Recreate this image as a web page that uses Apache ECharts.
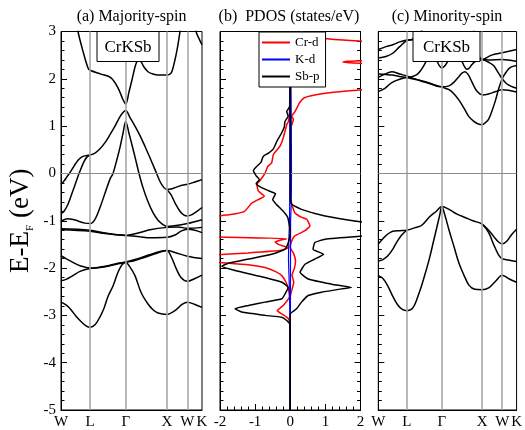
<!DOCTYPE html>
<html>
<head>
<meta charset="utf-8">
<script src="https://cdn.jsdelivr.net/npm/echarts@6/dist/echarts.min.js"></script>
<style>
  html, body { margin: 0; padding: 0; background: #fff; }
  #chart { width: 525px; height: 430px; }
</style>
</head>
<body>
<div id="chart"></div>
<script>
// High-symmetry path W-L-Γ-X-W-K (distances in units of 2π/a)
const kPoints = [0, 0.707, 1.573, 2.573, 3.073, 3.427];
const kLabels = ['W', 'L', 'Γ', 'X', 'W', 'K'];
const energyRange = [-5, 3];
const dosRange = [-2, 2];

// Majority-spin bands: [k, E - E_F (eV)]
const majA = [[0.340, 3.4], [0.413, 3.0], [0.535, 2.58], [0.656, 2.23], [0.707, 2.18], [0.972, 2.1], [1.215, 2.02], [1.385, 1.81], [1.507, 1.56], [1.573, 1.47], [1.652, 1.72], [1.726, 1.98], [1.798, 2.25], [1.847, 2.37], [1.896, 2.45], [1.944, 2.37], [2.017, 2.25], [2.115, 2.15], [2.236, 2.1], [2.358, 2.08], [2.573, 2.08], [2.673, 2.12], [2.722, 2.23], [2.795, 2.5], [2.843, 2.72], [2.892, 3.0], [2.941, 3.3]];
const majZ = [[3.073, 3.6], [3.183, 3.35], [3.281, 3.0], [3.354, 2.85], [3.427, 2.72]];
const majC = [[0, -0.23], [0.073, -0.16], [0.146, -0.07], [0.219, 0.02], [0.292, 0.12], [0.365, 0.22], [0.437, 0.3], [0.535, 0.36], [0.707, 0.39], [0.826, 0.43], [0.948, 0.52], [1.069, 0.65], [1.191, 0.82], [1.312, 1.0], [1.434, 1.2], [1.507, 1.29], [1.573, 1.33], [1.677, 1.18], [1.798, 1.0], [1.920, 0.8], [2.042, 0.57], [2.163, 0.33], [2.285, 0.08], [2.406, -0.17], [2.503, -0.3], [2.573, -0.34], [2.673, -0.33], [2.770, -0.3], [2.941, -0.25], [3.073, -0.23], [3.256, -0.18], [3.427, -0.13]];
const majD = [[0, -0.85], [0.073, -0.8], [0.170, -0.65], [0.267, -0.42], [0.365, -0.18], [0.462, 0.05], [0.559, 0.25], [0.632, 0.35], [0.707, 0.39]];
const majE = [[0, -1.02], [0.073, -0.98], [0.170, -0.96], [0.267, -0.97], [0.365, -0.99], [0.462, -1.02], [0.583, -1.05], [0.707, -1.06], [0.826, -0.97], [0.948, -0.72], [1.069, -0.42], [1.191, -0.12], [1.264, 0.0], [1.361, 0.3], [1.434, 0.55], [1.507, 0.85], [1.573, 1.1], [1.652, 0.85], [1.726, 0.6], [1.798, 0.35], [1.896, 0.0], [1.993, -0.3], [2.115, -0.6], [2.236, -0.83], [2.358, -0.99], [2.479, -1.08], [2.573, -1.12], [2.795, -1.1], [3.073, -1.06], [3.427, -0.98]];
const majF = [[2.573, -0.34], [2.673, -0.45], [2.770, -0.62], [2.892, -0.8], [2.989, -0.88], [3.073, -0.9], [3.183, -0.87], [3.305, -0.8], [3.427, -0.72]];
const majG1 = [[0, -1.17], [0.707, -1.2], [1.069, -1.26], [1.573, -1.31], [1.920, -1.25], [2.163, -1.19], [2.573, -1.14], [2.843, -1.13], [3.073, -1.16], [3.427, -1.14]];
const majG2 = [[0, -1.19], [0.707, -1.22], [1.069, -1.27], [1.573, -1.31], [1.920, -1.34], [2.163, -1.36], [2.573, -1.35], [2.770, -1.3], [2.916, -1.22], [3.073, -1.18], [3.256, -1.2], [3.427, -1.25]];
const majH = [[0, -2.72], [0.122, -2.78], [0.243, -2.88], [0.365, -3.02], [0.486, -3.13], [0.608, -3.22], [0.707, -3.25], [0.826, -3.2], [0.948, -3.03], [1.045, -2.85], [1.142, -2.6], [1.264, -2.38], [1.385, -2.09], [1.483, -1.93], [1.573, -1.88], [1.677, -1.98], [1.798, -2.16], [1.944, -2.51], [2.115, -2.76], [2.236, -2.88], [2.358, -2.95], [2.573, -2.98], [2.770, -2.9], [2.941, -2.77], [3.073, -2.72], [3.256, -2.77], [3.427, -2.83]];
const majI = [[0, -1.74], [0.122, -1.8], [0.267, -1.87], [0.462, -1.95], [0.707, -2.0], [0.948, -1.98], [1.191, -1.94], [1.385, -1.9], [1.573, -1.87], [1.798, -1.82], [2.042, -1.75], [2.285, -1.68], [2.455, -1.64], [2.573, -1.63], [2.770, -1.67], [3.073, -1.75], [3.427, -1.8]];
const majJ = [[0, -2.27], [0.122, -2.24], [0.267, -2.17], [0.462, -2.07], [0.707, -2.01], [0.948, -1.99], [1.191, -1.95], [1.385, -1.91], [1.573, -1.88], [1.798, -1.84], [2.042, -1.77], [2.285, -1.7], [2.455, -1.65], [2.573, -1.63], [2.673, -1.75], [2.795, -2.0], [2.916, -2.2], [3.073, -2.28], [3.256, -2.22], [3.427, -2.15]];

// Minority-spin bands: [k, E - E_F (eV)]
const minC1 = [[0, 2.62], [0.189, 2.68], [0.360, 2.72], [0.531, 2.78], [0.707, 2.82], [0.850, 2.84], [1.021, 2.95], [1.266, 3.2], [2.246, 3.2], [2.442, 2.6], [2.573, 2.41], [2.808, 2.5], [3.070, 2.55], [3.427, 2.62]];
const minC2 = [[0, 2.44], [0.189, 2.47], [0.360, 2.54], [0.531, 2.68], [0.707, 2.81], [0.850, 2.83], [1.143, 3.1]];
const minC2r = [[2.573, 2.41], [2.735, 2.4], [3.070, 2.41], [3.273, 2.39], [3.427, 2.37]];
const minC3 = [[0, 2.1], [0.189, 2.09], [0.335, 2.08], [0.531, 2.05], [0.707, 2.03], [0.850, 2.05], [0.972, 2.1], [1.070, 2.2], [1.143, 2.3], [1.217, 2.42], [1.315, 2.55], [1.438, 2.4], [1.511, 2.28], [1.573, 2.23], [1.656, 2.28], [1.754, 2.42], [1.877, 2.6], [2.000, 2.5], [2.074, 2.37], [2.148, 2.24], [2.197, 2.2], [2.246, 2.22], [2.319, 2.3], [2.392, 2.36], [2.573, 2.41]];
const minM1 = [[0, 2.03], [0.164, 2.1], [0.335, 2.15], [0.531, 2.1], [0.707, 2.06], [0.898, 2.0], [1.070, 1.95], [1.266, 1.9], [1.438, 1.85], [1.573, 1.83]];
const minM3 = [[0, 1.73], [0.164, 1.8], [0.335, 1.92], [0.531, 1.99], [0.707, 2.02], [0.898, 1.99], [1.070, 1.96], [1.266, 1.91], [1.438, 1.86], [1.573, 1.83]];
const minP1 = [[1.573, 1.83], [1.754, 1.85], [1.877, 1.93], [2.000, 2.05], [2.074, 2.12], [2.148, 2.15], [2.220, 2.1], [2.295, 1.98], [2.368, 1.85], [2.442, 1.74], [2.573, 1.66], [2.735, 1.68], [2.906, 1.73], [3.070, 1.77], [3.224, 1.76], [3.427, 1.72]];
const minP2 = [[1.573, 1.83], [1.656, 1.8], [1.754, 1.77], [1.877, 1.68], [2.000, 1.55], [2.123, 1.38], [2.246, 1.2], [2.368, 1.1], [2.465, 1.05], [2.573, 1.03], [2.661, 1.08], [2.735, 1.15], [2.808, 1.3], [2.906, 1.55], [2.980, 1.78], [3.070, 2.0], [3.175, 2.15], [3.273, 2.24], [3.427, 2.28]];
const minP3 = [[2.573, 2.41], [2.735, 2.35], [2.857, 2.28], [2.980, 2.12], [3.070, 2.0], [3.175, 1.9], [3.297, 1.84], [3.427, 1.8]];
const minV1 = [[0, -1.49], [0.115, -1.38], [0.237, -1.28], [0.360, -1.22], [0.531, -1.21], [0.707, -1.2], [0.898, -1.15], [1.070, -1.1], [1.266, -0.92], [1.438, -0.8], [1.573, -0.7], [1.754, -0.76], [1.951, -0.86], [2.148, -0.93], [2.343, -1.0], [2.573, -1.07], [2.735, -1.2], [2.857, -1.33], [2.980, -1.45], [3.070, -1.49], [3.175, -1.44], [3.297, -1.3], [3.427, -1.18]];
const minV2 = [[0, -1.85], [0.115, -1.82], [0.237, -1.74], [0.360, -1.6], [0.458, -1.45], [0.580, -1.3], [0.707, -1.2]];
const minV3 = [[0, -2.16], [0.115, -2.22], [0.237, -2.38], [0.360, -2.6], [0.482, -2.78], [0.605, -2.88], [0.707, -2.9], [0.825, -2.87], [0.898, -2.78], [0.972, -2.62], [1.070, -2.38], [1.168, -2.1], [1.266, -1.8], [1.364, -1.45], [1.462, -1.1], [1.522, -0.88], [1.573, -0.7], [1.656, -0.9], [1.754, -1.2], [1.877, -1.55], [2.000, -1.9], [2.123, -2.15], [2.246, -2.36], [2.392, -2.45], [2.573, -2.46], [2.735, -2.42], [2.906, -2.28], [3.070, -2.15], [3.224, -2.22], [3.427, -2.3]];
const minV5 = [[2.573, -1.07], [2.735, -1.25], [2.857, -1.5], [2.980, -1.72], [3.070, -1.8], [3.224, -1.83], [3.427, -1.86]];

// Projected DOS: [states/eV, E - E_F (eV)]; majority drawn to the left (negative)
const crUp = [[0, 3.0], [-0.01, 2.0], [-0.02, 1.3], [-0.05, 1.1], [-0.1, 1.03], [-0.2, 0.75], [-0.29, 0.58], [-0.48, 0.4], [-0.53, 0.22], [-0.64, 0.15], [-0.72, 0.0], [-0.86, -0.15], [-0.95, -0.23], [-0.91, -0.37], [-0.74, -0.48], [-0.93, -0.56], [-1.1, -0.63], [-1.3, -0.8], [-1.7, -0.87], [-2.3, -0.92], [-3, -1.0], [-3, -1.3], [-2.2, -1.34], [-0.1, -1.38], [-0.43, -1.45], [-0.34, -1.5], [-0.05, -1.57], [-0.3, -1.63], [-1.2, -1.68], [-2.5, -1.74], [-3, -1.78], [-2.5, -1.85], [-1.2, -1.93], [-0.72, -1.99], [-0.4, -2.08], [-0.24, -2.16], [-0.12, -2.3], [-0.05, -2.45], [-0.02, -2.6], [-0.2, -2.79], [-0.37, -2.9], [-0.24, -2.97], [-0.05, -3.07], [-0.01, -3.2], [0, -5]];
const crDn = [[0.3, 3.0], [0.5, 2.92], [0.78, 2.87], [1.5, 2.82], [2.3, 2.78], [3, 2.72], [3, 2.42], [2.3, 2.39], [1.6, 2.37], [1.5, 2.35], [2.2, 2.32], [3, 2.28], [3, 1.82], [2.3, 1.78], [1.9, 1.76], [1.3, 1.72], [0.7, 1.66], [0.4, 1.6], [0.27, 1.5], [0.2, 1.4], [0.13, 1.3], [0.04, 1.21], [0.09, 1.14], [0.03, 1.0], [0.01, 0.8], [0, -0.5], [0.06, -0.69], [0.13, -0.83], [0.3, -0.92], [0.47, -0.97], [0.56, -1.11], [0.42, -1.21], [0.13, -1.32], [0.03, -1.45], [0, -1.56], [0.1, -1.7], [0.15, -1.85], [0.12, -2.0], [0.05, -2.15], [0.1, -2.3], [0.05, -2.45], [0, -2.6], [0, -5]];
const kUp = [[-0.01, 3.0], [-0.01, 0.0], [-0.02, -1.0], [-0.04, -1.4], [-0.05, -1.8], [-0.03, -2.3], [-0.01, -3.0], [0, -5]];
const kDn = [[0.01, 3.0], [0.03, 1.0], [0.035, 0.0], [0.03, -0.6], [0.01, -1.0], [0.005, -3.0], [0, -5]];
const sbUp = [[0, 3.0], [0, 1.45], [-0.04, 1.38], [-0.1, 1.31], [-0.06, 1.21], [-0.15, 1.1], [-0.17, 0.98], [-0.25, 0.85], [-0.38, 0.68], [-0.48, 0.52], [-0.62, 0.43], [-0.77, 0.36], [-0.83, 0.24], [-0.95, 0.15], [-1.05, 0.06], [-0.97, -0.05], [-0.88, -0.13], [-0.97, -0.22], [-0.82, -0.3], [-0.6, -0.37], [-0.42, -0.43], [-0.5, -0.55], [-0.4, -0.65], [-0.2, -0.8], [-0.07, -0.93], [0, -1.25], [-0.05, -1.45], [-0.15, -1.6], [-0.53, -1.71], [-1.19, -1.81], [-1.76, -1.9], [-1.95, -1.96], [-1.57, -2.05], [-0.72, -2.2], [-0.24, -2.3], [-0.06, -2.41], [-0.15, -2.55], [-0.24, -2.65], [-0.72, -2.72], [-1.19, -2.79], [-1.57, -2.86], [-1.38, -2.93], [-0.72, -3.0], [-0.24, -3.04], [-0.1, -3.11], [0, -3.21], [0, -5]];
const sbDn = [[0, 3.0], [0, -0.55], [0.04, -0.65], [0.32, -0.76], [0.99, -0.9], [1.99, -1.02], [3, -1.1], [3, -1.28], [1.99, -1.33], [0.99, -1.39], [0.7, -1.46], [0.65, -1.6], [0.95, -1.71], [0.7, -1.81], [0.42, -1.92], [0.28, -2.09], [0.51, -2.23], [1.18, -2.34], [1.74, -2.41], [1.46, -2.44], [0.89, -2.51], [0.51, -2.58], [0.32, -2.72], [0.18, -2.86], [0, -2.97], [0, -5]];

const majorityBands = [majA, majZ, majC, majD, majE, majF, majG1, majG2, majH, majI, majJ];
const minorityBands = [minC1, minC2, minC2r, minC3, minM1, minM3, minP1, minP2, minP3, minV1, minV2, minV3, minV5];

const FONT = 'Liberation Serif';
const grids = [
  { left: 61, top: 31.5, width: 141, height: 380 },
  { left: 220, top: 31.5, width: 140.5, height: 380 },
  { left: 378.3, top: 31.5, width: 140, height: 380 }
];

function energyAxis(gridIndex, extra) {
  return Object.assign({
    type: 'value', gridIndex: gridIndex,
    min: energyRange[0], max: energyRange[1], interval: 1,
    axisLine: { show: true, onZero: false, lineStyle: { color: '#000', width: 1 } },
    axisTick: { show: true, inside: true, length: 6, lineStyle: { color: '#000', width: 1 } },
    minorTick: { show: true, splitNumber: 5, length: 3.5, lineStyle: { color: '#000', width: 1 } },
    splitLine: { show: false },
    axisLabel: { show: false }
  }, extra || {});
}

function pathAxis(gridIndex) {
  return {
    type: 'value', gridIndex: gridIndex,
    min: kPoints[0], max: kPoints[kPoints.length - 1],
    axisLine: { show: true, onZero: false, lineStyle: { color: '#000', width: 1 } },
    axisTick: { show: false },
    splitLine: { show: false },
    axisLabel: {
      customValues: kPoints,
      fontFamily: FONT, fontSize: 15, color: '#000', margin: 5,
      formatter: function (v) {
        let best = 0;
        kPoints.forEach(function (p, i) { if (Math.abs(p - v) < Math.abs(kPoints[best] - v)) best = i; });
        return kLabels[best];
      }
    }
  };
}

function guideLines(gridIndex, vertical) {
  const data = [];
  if (vertical) {
    kPoints.slice(1, -1).forEach(function (k) {
      data.push({ xAxis: k, lineStyle: { color: '#a8a8a8', width: 1.6 } });
    });
  }
  data.push({ yAxis: 0, lineStyle: { color: '#8c8c8c', width: 1 } });
  return {
    type: 'line', xAxisIndex: gridIndex, yAxisIndex: gridIndex, data: [], z: 1,
    markLine: { silent: true, symbol: 'none', label: { show: false }, animation: false,
      lineStyle: { type: 'solid' }, data: data }
  };
}

function bandSeries(data, gridIndex) {
  return {
    type: 'line', xAxisIndex: gridIndex, yAxisIndex: gridIndex, data: data,
    smooth: 0.35, showSymbol: false, silent: true, z: 3,
    lineStyle: { color: '#000', width: 1.5 }
  };
}

function dosSeries(name, color, data, z, width) {
  return {
    name: name, type: 'line', xAxisIndex: 1, yAxisIndex: 1, data: data,
    smooth: 0.15, showSymbol: false, silent: true, z: z, color: color,
    lineStyle: { color: color, width: width }
  };
}

const series = [guideLines(0, true), guideLines(1, false), guideLines(2, true)];
majorityBands.forEach(function (b) { series.push(bandSeries(b, 0)); });
minorityBands.forEach(function (b) { series.push(bandSeries(b, 2)); });
series.push(dosSeries('Cr-d', '#ff0000', crUp, 3, 1.5));
series.push(dosSeries('Cr-d', '#ff0000', crDn, 3, 1.5));
series.push(dosSeries('K-d', '#0000ff', kUp, 4, 1.2));
series.push(dosSeries('K-d', '#0000ff', kDn, 4, 1.2));
series.push(dosSeries('Sb-p', '#000000', sbUp, 5, 1.5));
series.push(dosSeries('Sb-p', '#000000', sbDn, 5, 1.5));

function labelBox(x, y, w, h, text) {
  return {
    type: 'group', z: 100,
    children: [
      { type: 'rect', z: 100, shape: { x: x, y: y, width: w, height: h },
        style: { fill: '#fff', stroke: '#000', lineWidth: 1 } },
      { type: 'text', z: 101, style: { text: text, x: x + w / 2, y: y + h / 2 + 1,
        textAlign: 'center', textVerticalAlign: 'middle', font: '17px "' + FONT + '"', fill: '#000' } }
    ]
  };
}

function panelTitle(text, cx) {
  return { type: 'text', z: 100, style: { text: text, x: cx, y: 17,
    textAlign: 'center', textVerticalAlign: 'middle', font: '16px "' + FONT + '"', fill: '#000' } };
}

const option = {
  animation: false,
  backgroundColor: '#fff',
  grid: grids.map(function (g) {
    return Object.assign({ show: true, borderColor: '#000', borderWidth: 1, backgroundColor: 'transparent' }, g);
  }),
  xAxis: [
    pathAxis(0),
    {
      type: 'value', gridIndex: 1, min: dosRange[0], max: dosRange[1], interval: 1,
      axisLine: { show: true, onZero: false, lineStyle: { color: '#000', width: 1 } },
      axisTick: { show: true, inside: true, length: 6, lineStyle: { color: '#000', width: 1 } },
      minorTick: { show: true, splitNumber: 5, length: 3.5, lineStyle: { color: '#000', width: 1 } },
      splitLine: { show: false },
      axisLabel: { fontFamily: FONT, fontSize: 15, color: '#000', margin: 5 }
    },
    pathAxis(2)
  ],
  yAxis: [
    energyAxis(0, {
      axisLabel: { show: true, fontFamily: FONT, fontSize: 15, color: '#000', margin: 5 },
      name: '{m|E-E}{s|F}{m| (eV)}',
      nameLocation: 'middle', nameRotate: 90, nameGap: 27,
      nameTextStyle: {
        fontFamily: FONT, fontSize: 27, color: '#000',
        rich: {
          m: { fontFamily: FONT, fontSize: 27, color: '#000' },
          s: { fontFamily: FONT, fontSize: 11, color: '#000', verticalAlign: 'bottom', padding: [0, 0, -2, 0] }
        }
      }
    }),
    energyAxis(1),
    energyAxis(2),
    energyAxis(1, { position: 'right' })
  ],
  legend: {
    data: ['Cr-d', 'K-d', 'Sb-p'],
    orient: 'vertical', left: 259, top: 32,
    backgroundColor: '#fff', borderColor: '#000', borderWidth: 1, borderRadius: 0,
    padding: [4, 6, 4, 3], itemGap: 4, itemWidth: 28, itemHeight: 2, icon: 'rect',
    textStyle: { fontFamily: FONT, fontSize: 13, color: '#000' },
    selectedMode: false, z: 50
  },
  graphic: [
    panelTitle('(a) Majority-spin', 131.5),
    panelTitle('(b)  PDOS (states/eV)', 289),
    panelTitle('(c) Minority-spin', 447),
    labelBox(97, 31.5, 62, 30, 'CrKSb'),
    labelBox(413, 31.5, 67, 30, 'CrKSb')
  ],
  series: series
};

const chart = echarts.init(document.getElementById('chart'), null, { renderer: 'canvas' });
chart.setOption(option);
</script>
</body>
</html>
